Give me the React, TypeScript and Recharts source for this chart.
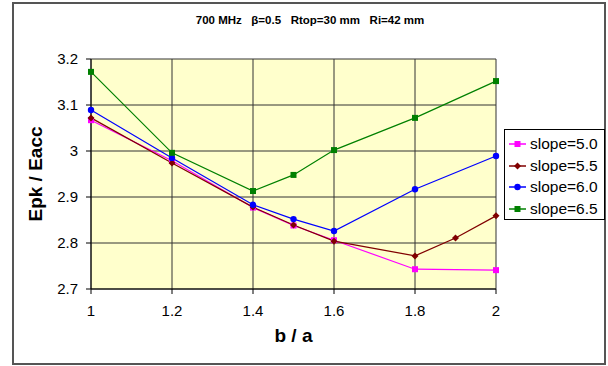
import { LineChart, Line, XAxis, YAxis, CartesianGrid } from 'recharts';

const FONT = '"Liberation Sans", Arial, sans-serif';

const bOverA = [1, 1.2, 1.4, 1.5, 1.6, 1.8, 1.9, 2];
const slope50 = [3.067, 2.979, 2.877, 2.838, 2.806, 2.743, null, 2.741];
const slope55 = [3.072, 2.974, 2.878, 2.839, 2.804, 2.772, 2.811, 2.859];
const slope60 = [3.089, 2.985, 2.883, 2.852, 2.826, 2.917, null, 2.989];
const slope65 = [3.172, 2.996, 2.913, 2.948, 3.002, 3.072, null, 3.152];

const xTicks = [1, 1.2, 1.4, 1.6, 1.8, 2];
const yTicks = [2.7, 2.8, 2.9, 3.0, 3.1, 3.2];

const rows = bOverA.map((x, i) => ({
  x,
  s50: slope50[i],
  s55: slope55[i],
  s60: slope60[i],
  s65: slope65[i],
}));

type Marker = 'square' | 'diamond' | 'circle';

const SERIES: { key: string; name: string; color: string; marker: Marker }[] = [
  { key: 's50', name: 'slope=5.0', color: '#ff00ff', marker: 'square' },
  { key: 's55', name: 'slope=5.5', color: '#800000', marker: 'diamond' },
  { key: 's60', name: 'slope=6.0', color: '#0000ff', marker: 'circle' },
  { key: 's65', name: 'slope=6.5', color: '#008000', marker: 'square' },
];

function drawMarker(marker: Marker, cx: number, cy: number, color: string, key?: string) {
  if (cx == null || cy == null || Number.isNaN(cy)) return <g key={key} />;
  if (marker === 'square') {
    return <rect key={key} x={cx - 3} y={cy - 3} width={6} height={6} fill={color} />;
  }
  if (marker === 'diamond') {
    return (
      <polygon key={key} points={`${cx},${cy - 3.5} ${cx + 3.5},${cy} ${cx},${cy + 3.5} ${cx - 3.5},${cy}`} fill={color} />
    );
  }
  return <circle key={key} cx={cx} cy={cy} r={3.2} fill={color} />;
}

function LegendBox() {
  return (
    <div
      style={{
        position: 'absolute', left: 504, top: 129, width: 99, height: 86,
        border: '1px solid #000', background: '#fff', paddingTop: 3, boxSizing: 'content-box',
        fontFamily: FONT, fontSize: 15.5,
      }}
    >
      {SERIES.map(s => (
        <div key={s.key} style={{ display: 'flex', alignItems: 'center', height: 21.7 }}>
          <svg width={21} height={12} style={{ marginLeft: 4 }}>
            <line x1={0} y1={6} x2={17} y2={6} stroke={s.color} strokeWidth={1.5} />
            {drawMarker(s.marker, 8.5, 6, s.color)}
          </svg>
          <span style={{ color: '#000' }}>{s.name}</span>
        </div>
      ))}
    </div>
  );
}

export default function App() {
  return (
    <div style={{ position: 'absolute', left: 0, top: 0, width: 608, height: 366, background: '#fff', fontFamily: FONT }}>
      <div style={{ position: 'absolute', left: 12, top: 2, width: 590, height: 359, border: '2px solid #555' }} />
      <div style={{ position: 'absolute', left: 0, top: 14, width: 620, textAlign: 'center', fontSize: 11.5, fontWeight: 'bold', whiteSpace: 'pre' }}>
        {'700 MHz   \u03b2=0.5   Rtop=30 mm   Ri=42 mm'}
      </div>
      <LineChart
        width={608}
        height={366}
        data={rows}
        margin={{ top: 59, right: 112, bottom: 47, left: 51 }}
        style={{ position: 'absolute', left: 0, top: 0 }}
      >
        <CartesianGrid fill="#ffffcc" stroke="#333" strokeWidth={1} />
        <XAxis
          dataKey="x"
          type="number"
          domain={[1, 2]}
          ticks={xTicks}
          height={30}
          tickSize={5}
          tickMargin={11}
          stroke="#000"
          tick={{ fontSize: 15, fill: '#000', fontFamily: FONT }}
          label={{ value: 'b / a', position: 'bottom', offset: 10, style: { fontSize: 19, fontWeight: 'bold', fill: '#000', fontFamily: FONT } }}
        />
        <YAxis
          type="number"
          domain={[2.7, 3.2]}
          ticks={yTicks}
          width={40}
          tickSize={5}
          tickMargin={8}
          stroke="#000"
          tick={{ fontSize: 15, fill: '#000', fontFamily: FONT }}
          label={() => (
            <text
              x={35}
              y={174}
              transform="rotate(-90 35 174)"
              textAnchor="middle"
              dominantBaseline="central"
              style={{ fontSize: 19, fontWeight: 'bold', fill: '#000', fontFamily: FONT }}
            >
              Epk / Eacc
            </text>
          )}
        />
        {SERIES.map(s => (
          <Line
            key={s.key}
            dataKey={s.key}
            name={s.name}
            stroke={s.color}
            strokeWidth={1.2}
            connectNulls
            isAnimationActive={false}
            dot={(p: any) => drawMarker(s.marker, p.cx, p.cy, s.color, `${s.key}-${p.index}`)}
            activeDot={false}
          />
        ))}
      </LineChart>
      <LegendBox />
    </div>
  );
}
